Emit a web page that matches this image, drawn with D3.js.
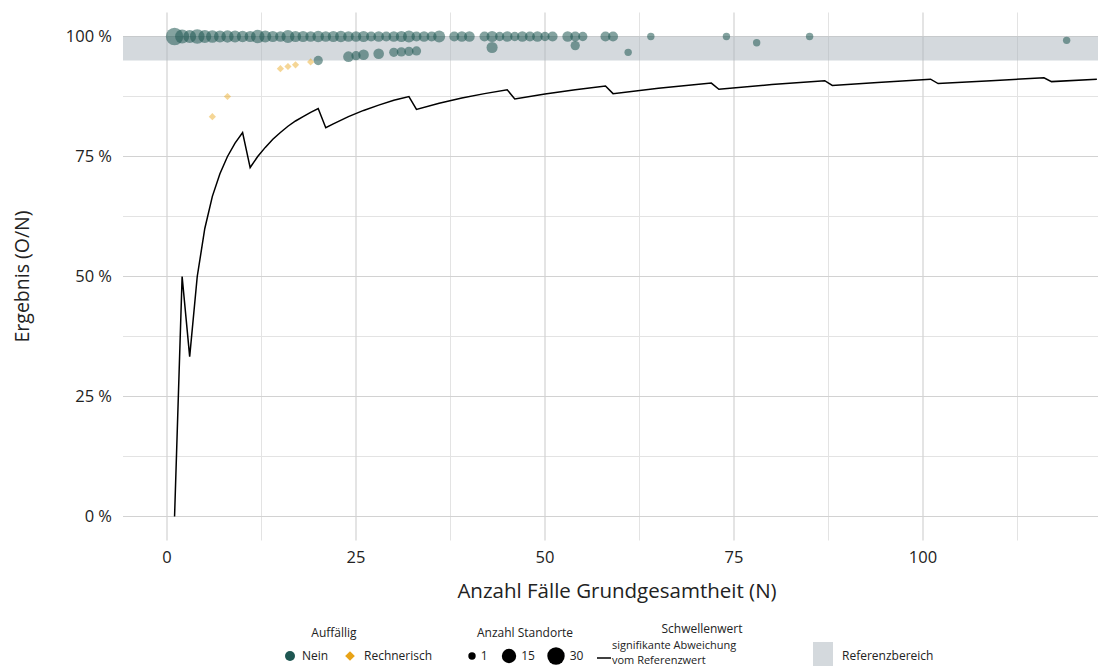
<!DOCTYPE html>
<html>
<head>
<meta charset="utf-8">
<script src="https://cdn.jsdelivr.net/npm/d3@7"></script>
<style>
  body { margin: 0; background: #fff; }
  svg { display: block; font-family: "Open Sans", Lato, sans-serif; }
</style>
</head>
<body>
<svg id="chart" width="1098" height="666"></svg>
<script>
'use strict'

// Standorte ohne Auffälligkeit: [N, Ergebnis in %, Anzahl Standorte]
const neinPoints = [
  [1, 100, 30], [2, 100, 14], [3, 100, 10], [4, 100, 16], [5, 100, 10], [6, 100, 9],
  [7, 100, 7], [8, 100, 8], [9, 100, 7], [10, 100, 6], [11, 100, 5], [12, 100, 12],
  [13, 100, 7], [14, 100, 5], [15, 100, 4], [16, 100, 10], [17, 100, 5], [18, 100, 5],
  [19, 100, 4], [20, 100, 6], [21, 100, 4], [22, 100, 5], [23, 100, 6], [24, 100, 4],
  [25, 100, 4], [26, 100, 5], [27, 100, 3], [28, 100, 4], [29, 100, 3], [30, 100, 4],
  [31, 100, 5], [32, 100, 7], [33, 100, 3], [34, 100, 4], [35, 100, 3], [36, 100, 7],
  [38, 100, 3], [39, 100, 4], [40, 100, 4], [42, 100, 3], [43, 100, 5], [44, 100, 2],
  [45, 100, 4], [46, 100, 2], [47, 100, 4], [48, 100, 3], [49, 100, 4], [50, 100, 2],
  [51, 100, 3], [53, 100, 4], [54, 100, 3], [55, 100, 2], [58, 100, 3], [59, 100, 3],
  [64, 100, 1], [74, 100, 1], [85, 100, 1],
  [20, 95.0, 2], [24, 95.8, 4], [25, 96.0, 2], [26, 96.2, 4], [28, 96.4, 4],
  [30, 96.7, 2], [31, 96.8, 2], [32, 96.9, 2], [33, 97.0, 2], [43, 97.7, 5],
  [54, 98.1, 2], [61, 96.7, 1], [78, 98.7, 1], [119, 99.2, 1]
]

// rechnerisch auffällige Standorte: [N, Ergebnis in %, Anzahl Standorte]
const rechnerischPoints = [
  [6, 83.3, 1], [8, 87.5, 1], [15, 93.3, 1], [16, 93.75, 1], [17, 94.1, 1], [19, 94.7, 1]
]

// Schwellenwert signifikante Abweichung: [N, %]
const threshold = [
  [1, 0], [2, 50], [3, 33.3], [4, 50], [5, 60], [6, 66.7], [7, 71.4], [8, 75], [9, 77.8],
  [10, 80], [11, 72.7], [12, 75], [13, 76.9], [14, 78.6], [15, 80], [16, 81.3], [17, 82.4],
  [18, 83.3], [19, 84.2], [20, 85], [21, 81], [22, 81.8], [24, 83.3], [26, 84.6], [28, 85.7],
  [30, 86.7], [32, 87.5], [33, 84.8], [36, 86.1], [39, 87.2], [42, 88.1], [45, 88.9],
  [46, 87.0], [50, 88.0], [54, 88.9], [58, 89.7], [59, 88.1], [65, 89.2], [72, 90.3],
  [73, 89.0], [80, 90.0], [87, 90.8], [88, 89.8], [94, 90.4], [101, 91.1], [102, 90.2],
  [109, 90.8], [116, 91.4], [117, 90.6], [123, 91.1]
]

const referenzBereich = [95, 100]
const xTicks = [0, 25, 50, 75, 100]
const xMinor = [12.5, 37.5, 62.5, 87.5, 112.5]
const yTicks = [0, 25, 50, 75, 100]
const yMinor = [12.5, 37.5, 62.5, 87.5]
const sizeLegend = [1, 15, 30]

const svg = d3.select('#chart')

const panel = { left: 123, right: 1111, top: 12.5, bottom: 540.5 }

const x = d3.scaleLinear().domain([0, 100]).range([167, 923])
const y = d3.scaleLinear().domain([0, 100]).range([516.5, 36.5])
// Fläche wie ggplot: 1 Standort -> kleinster Kreis, 30 -> größter
const rExtra = d3.scaleSqrt().domain([0, 29]).range([0, 5])
const r = v => 3.7 + rExtra(v - 1)

const colNein = '#1f5752'
const colRech = '#e8a317'

svg.append('defs').append('clipPath').attr('id', 'panel')
  .append('rect')
  .attr('x', panel.left).attr('y', panel.top)
  .attr('width', panel.right - panel.left).attr('height', panel.bottom - panel.top)

// grid
const grid = svg.append('g')
grid.selectAll('.xminor').data(xMinor).join('line')
  .attr('x1', d => x(d)).attr('x2', d => x(d))
  .attr('y1', panel.top).attr('y2', panel.bottom)
  .attr('stroke', '#e3e3e3').attr('stroke-width', 1)
grid.selectAll('.yminor').data(yMinor).join('line')
  .attr('x1', panel.left).attr('x2', panel.right)
  .attr('y1', d => y(d)).attr('y2', d => y(d))
  .attr('stroke', '#e3e3e3').attr('stroke-width', 1)
grid.selectAll('.xmajor').data(xTicks).join('line')
  .attr('x1', d => x(d)).attr('x2', d => x(d))
  .attr('y1', panel.top).attr('y2', panel.bottom)
  .attr('stroke', '#d2d2d2').attr('stroke-width', 1.2)
grid.selectAll('.ymajor').data(yTicks).join('line')
  .attr('x1', panel.left).attr('x2', panel.right)
  .attr('y1', d => y(d)).attr('y2', d => y(d))
  .attr('stroke', '#d2d2d2').attr('stroke-width', 1.2)

const plot = svg.append('g').attr('clip-path', 'url(#panel)')

// Referenzbereich
plot.append('rect')
  .attr('x', panel.left).attr('width', panel.right - panel.left)
  .attr('y', y(referenzBereich[1])).attr('height', y(referenzBereich[0]) - y(referenzBereich[1]))
  .attr('fill', '#a9b3bb').attr('fill-opacity', 0.5)

// Schwellenwert
plot.append('path')
  .datum(threshold)
  .attr('d', d3.line().x(d => x(d[0])).y(d => y(d[1])))
  .attr('fill', 'none').attr('stroke', '#000').attr('stroke-width', 1.5)

// Punkte
plot.selectAll('.nein').data(neinPoints).join('circle')
  .attr('cx', d => x(d[0])).attr('cy', d => y(d[1])).attr('r', d => r(d[2]))
  .attr('fill', colNein).attr('fill-opacity', 0.55)

const diamond = d3.symbol().type(d3.symbolDiamond2)
plot.selectAll('.rech').data(rechnerischPoints).join('path')
  .attr('transform', d => `translate(${x(d[0])},${y(d[1])})`)
  .attr('d', d => diamond.size(Math.pow(r(d[2]) * 1.55, 2))())
  .attr('fill', colRech).attr('fill-opacity', 0.45)

// axes labels
svg.append('g').selectAll('text').data(yTicks).join('text')
  .attr('x', 112).attr('y', d => y(d)).attr('dy', '0.35em')
  .attr('text-anchor', 'end').attr('font-size', 16.5).attr('fill', '#222')
  .text(d => `${d} %`)

svg.append('g').selectAll('text').data(xTicks).join('text')
  .attr('x', d => x(d)).attr('y', 557).attr('dy', '0.35em')
  .attr('text-anchor', 'middle').attr('font-size', 16.5).attr('fill', '#222')
  .text(d => d)

svg.append('text')
  .attr('x', 617).attr('y', 591).attr('dy', '0.35em')
  .attr('text-anchor', 'middle').attr('font-size', 20.5).attr('fill', '#222')
  .text('Anzahl Fälle Grundgesamtheit (N)')

svg.append('text')
  .attr('transform', `translate(22,${(panel.top + panel.bottom) / 2}) rotate(-90)`)
  .attr('dy', '0.35em')
  .attr('text-anchor', 'middle').attr('font-size', 19.5).attr('fill', '#222')
  .text('Ergebnis (O/N)')

// legend
const lg = svg.append('g').attr('font-size', 12).attr('fill', '#222')

lg.append('text').attr('x', 334).attr('y', 633).attr('dy', '0.35em')
  .attr('text-anchor', 'middle').text('Auffällig')
lg.append('circle').attr('cx', 290).attr('cy', 656).attr('r', 5).attr('fill', colNein)
lg.append('text').attr('x', 302).attr('y', 656).attr('dy', '0.35em').text('Nein')
lg.append('path').attr('transform', 'translate(350,656)')
  .attr('d', d3.symbol().type(d3.symbolDiamond2).size(60)()).attr('fill', colRech)
lg.append('text').attr('x', 364).attr('y', 656).attr('dy', '0.35em').text('Rechnerisch')

lg.append('text').attr('x', 525).attr('y', 633).attr('dy', '0.35em')
  .attr('text-anchor', 'middle').text('Anzahl Standorte')
const sizeX = [472, 509, 556]
lg.selectAll('.sz').data(sizeLegend).join('circle')
  .attr('cx', (d, i) => sizeX[i]).attr('cy', 656).attr('r', d => r(d)).attr('fill', '#000')
lg.selectAll('.szt').data(sizeLegend).join('text')
  .attr('x', (d, i) => sizeX[i] + r(d) + 5).attr('y', 656).attr('dy', '0.35em').text(d => d)

lg.append('text').attr('x', 702).attr('y', 629).attr('dy', '0.35em')
  .attr('text-anchor', 'middle').text('Schwellenwert')
lg.append('line').attr('x1', 597).attr('x2', 611).attr('y1', 658).attr('y2', 658)
  .attr('stroke', '#000').attr('stroke-width', 1.5)
lg.append('text').attr('x', 612).attr('y', 645).attr('dy', '0.35em')
  .attr('font-size', 11).text('signifikante Abweichung')
lg.append('text').attr('x', 612).attr('y', 660).attr('dy', '0.35em')
  .attr('font-size', 11).text('vom Referenzwert')

lg.append('rect').attr('x', 813).attr('y', 642).attr('width', 20).attr('height', 30)
  .attr('fill', '#a9b3bb').attr('fill-opacity', 0.5)
lg.append('text').attr('x', 842).attr('y', 656).attr('dy', '0.35em').text('Referenzbereich')
</script>
</body>
</html>
